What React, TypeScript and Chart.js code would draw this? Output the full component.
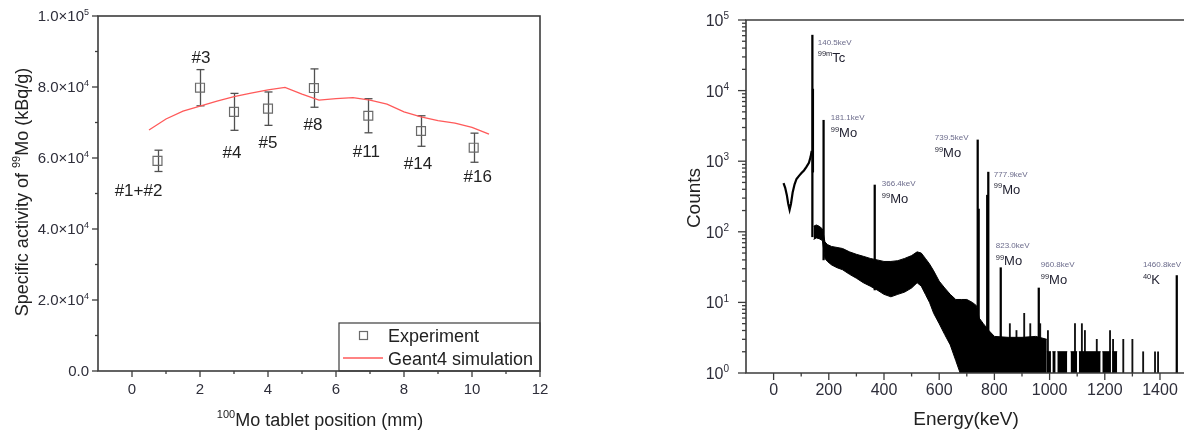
import React, { useEffect, useRef } from "react";
import { Chart, registerables } from "chart.js";

Chart.register(...registerables);

const FONT = '"Liberation Sans", Arial, Helvetica, sans-serif';

// ---------------- Left panel: specific activity of 99Mo vs tablet position ----------------
const tabletPosition = [0.75, 2.0, 3.0, 4.0, 5.35, 6.95, 8.5, 10.05];
const tabletActivity = [59200, 79800, 73000, 73900, 79700, 71900, 67600, 62900];
const tabletError = [3000, 5100, 5200, 4700, 5400, 4800, 4300, 4100];
const tabletNames = ["#1+#2", "#3", "#4", "#5", "#8", "#11", "#14", "#16"];

const simPosition = [0.5, 1.0, 1.5, 2.0, 2.5, 3.0, 3.5, 4.0, 4.5, 5.0, 5.5, 6.0, 6.5, 7.0, 7.5, 8.0, 8.5, 9.0, 9.5, 10.0, 10.5];
const simActivity = [67900, 71000, 73200, 74600, 76000, 77300, 78300, 79200, 79900, 78000, 76300, 76700, 77000, 76300, 75200, 73000, 71600, 70500, 69800, 68600, 66700];

const positionMajorTicks = [0, 2, 4, 6, 8, 10, 12];
const positionMinorTicks = [1, 3, 5, 7, 9, 11];
const activityMajorTicks = [0, 20000, 40000, 60000, 80000, 100000];
const activityMinorTicks = [10000, 30000, 50000, 70000, 90000];

// label placement (pixel offsets from each point) – style, not data
const nameOffset = [[-19, 29], [1, -31], [-2, 40], [0, 33], [-1, 36], [-2, 35], [-3, 32], [4, 28]];

// ---------------- Right panel: gamma spectrum ----------------
const lowEnergy = [36, 42, 48, 53, 58, 63, 69, 76, 83, 92, 101, 110, 119, 128, 134, 138];
const lowCounts = [490, 420, 330, 250, 205, 250, 360, 470, 560, 620, 680, 740, 830, 950, 1150, 1400];

const bandEnergy = [145, 155, 165, 177, 186, 195, 210, 230, 250, 275, 300, 325, 350, 375, 400, 425, 450, 475, 500, 520, 535, 550, 565, 580, 600, 620, 640, 660, 680, 700, 720, 735, 745, 760, 780, 800, 850, 900, 950, 990];
const bandHigh = [120, 125, 120, 110, 72, 66, 62, 60, 58, 52, 48, 45, 42, 40, 38, 38, 39, 42, 46, 52, 50, 42, 35, 28, 20, 16, 13, 11, 11, 11, 10, 9, 6, 5, 4, 3.3, 3.2, 3.2, 3.3, 3];
const bandLow = [78, 82, 80, 75, 42, 38, 34, 31, 29, 25, 22, 19, 17, 15, 13, 12, 13, 14, 16, 19, 17, 13, 10, 7, 5, 3.5, 2.5, 1.5, 0.9, 0.5, 0.5, 0.5, 0.5, 0.5, 0.5, 0.5, 0.5, 0.5, 0.5, 0.5];

const blockStart = [990, 1010, 1028, 1076, 1106, 1191, 1227];
const blockEnd = [1005, 1022, 1064, 1100, 1185, 1221, 1245];
const blockCounts = [2, 2, 2, 2, 2, 2, 2];

const peakEnergy = [140.5, 142.5, 181.1, 366.4, 739.5, 743.0, 774.0, 777.9, 823.0, 960.8, 1460.8];
const peakCounts = [61000, 10500, 3800, 460, 2000, 210, 330, 700, 31, 16, 24];
const peakFloor = [85, 700, 40, 15, 0.5, 0.5, 0.5, 0.5, 0.5, 0.5, 0.5];

const spikeEnergy = [856, 880, 908, 930, 966, 994, 1092, 1117, 1128, 1171, 1219, 1230, 1267, 1300, 1339, 1382, 1393];
const spikeCounts = [5, 4, 7, 5, 5, 4, 5, 5, 4, 3, 4, 3, 3, 3, 2, 2, 2];

const peakLabelText = ["140.5keV", "181.1keV", "366.4keV", "739.5keV", "777.9keV", "823.0keV", "960.8keV", "1460.8keV"];
const peakLabelMass = ["99m", "99", "99", "99", "99", "99", "99", "40"];
const peakLabelSymbol = ["Tc", "Mo", "Mo", "Mo", "Mo", "Mo", "Mo", "K"];
const peakLabelAtEnergy = [160, 207, 392, 584, 798, 805, 968, 1338];
const peakLabelAtCounts = [49000, 4230, 490, 2200, 660, 65, 35, 35];

const energyMajorTicks = [0, 200, 400, 600, 800, 1000, 1200, 1400];
const energyMinorTicks = [100, 300, 500, 700, 900, 1100, 1300];
const countExponents = [0, 1, 2, 3, 4, 5];
const countMinorMultipliers = [2, 3, 4, 5, 6, 7, 8, 9];

// ---------------- helpers ----------------
type Part = { t: string; sup?: boolean };

function drawParts(ctx: CanvasRenderingContext2D, parts: Part[], x: number, y: number, size: number, align: "left" | "center" | "right", color: string, supSize?: number) {
  const ss = supSize ?? size * 0.62;
  const widths = parts.map((p) => {
    ctx.font = `${p.sup ? ss : size}px ${FONT}`;
    return ctx.measureText(p.t).width;
  });
  const total = widths.reduce((a, b) => a + b, 0);
  let cx = align === "left" ? x : align === "center" ? x - total / 2 : x - total;
  ctx.fillStyle = color;
  ctx.textAlign = "left";
  ctx.textBaseline = "alphabetic";
  parts.forEach((p, i) => {
    ctx.font = `${p.sup ? ss : size}px ${FONT}`;
    ctx.fillText(p.t, cx, p.sup ? y - size * 0.42 : y);
    cx += widths[i];
  });
}

function fmtActivity(v: number): Part[] {
  if (v === 0) return [{ t: "0.0" }];
  const e = Math.floor(Math.log10(v) + 1e-9);
  const m = v / Math.pow(10, e);
  return [{ t: `${m.toFixed(1)}×10` }, { t: String(e), sup: true }];
}

function tick(ctx: CanvasRenderingContext2D, x1: number, y1: number, x2: number, y2: number) {
  ctx.beginPath();
  ctx.moveTo(x1, y1);
  ctx.lineTo(x2, y2);
  ctx.stroke();
}

const TICK_COLOR = "#2e2e3a";
const AXIS_COLOR = "#3c3c3c";

// ---------------- left chart ----------------
function makeLeft(canvas: HTMLCanvasElement) {
  const expData = tabletPosition.map((x, i) => ({ x, y: tabletActivity[i] }));
  const simData = simPosition.map((x, i) => ({ x, y: simActivity[i] }));

  const decor = {
    id: "leftDecor",
    beforeDatasetsDraw(chart: any) {
      const { ctx, scales } = chart;
      const x = scales.x, y = scales.y;
      ctx.save();
      ctx.strokeStyle = "#505050";
      ctx.lineWidth = 1.3;
      tabletPosition.forEach((p, i) => {
        const px = Math.round(x.getPixelForValue(p)) + 0.5;
        const top = y.getPixelForValue(tabletActivity[i] + tabletError[i]);
        const bot = y.getPixelForValue(tabletActivity[i] - tabletError[i]);
        tick(ctx, px, top, px, bot);
        tick(ctx, px - 4, top, px + 4, top);
        tick(ctx, px - 4, bot, px + 4, bot);
      });
      ctx.restore();
    },
    afterDraw(chart: any) {
      const { ctx, scales, chartArea: ca } = chart;
      const x = scales.x, y = scales.y;
      ctx.save();
      ctx.strokeStyle = AXIS_COLOR;
      ctx.lineWidth = 1.6;
      ctx.strokeRect(ca.left, ca.top, ca.right - ca.left, ca.bottom - ca.top);
      ctx.lineWidth = 1.3;
      positionMajorTicks.forEach((v) => {
        const p = x.getPixelForValue(v);
        tick(ctx, p, ca.bottom, p, ca.bottom + 6);
        drawParts(ctx, [{ t: String(v) }], p, ca.bottom + 22.5, 15, "center", TICK_COLOR);
      });
      positionMinorTicks.forEach((v) => {
        const p = x.getPixelForValue(v);
        tick(ctx, p, ca.bottom, p, ca.bottom + 3);
      });
      activityMajorTicks.forEach((v) => {
        const p = y.getPixelForValue(v);
        tick(ctx, ca.left, p, ca.left - 6, p);
        drawParts(ctx, fmtActivity(v), ca.left - 9, p + 5.3, 15, "right", TICK_COLOR, 9);
      });
      activityMinorTicks.forEach((v) => {
        const p = y.getPixelForValue(v);
        tick(ctx, ca.left, p, ca.left - 3, p);
      });
      tabletPosition.forEach((p, i) => {
        const px = x.getPixelForValue(p) + nameOffset[i][0];
        const py = y.getPixelForValue(tabletActivity[i]) + nameOffset[i][1];
        drawParts(ctx, [{ t: tabletNames[i] }], px, py + 6, 17, "center", "#222");
      });
      const bw = 201, bh = 48;
      const bx = ca.right - bw, by = ca.bottom - bh;
      ctx.strokeStyle = AXIS_COLOR;
      ctx.lineWidth = 1.2;
      ctx.strokeRect(bx, by, bw, bh);
      ctx.strokeStyle = "#6b6b6b";
      ctx.strokeRect(bx + 20.5, by + 8.5, 8, 8);
      ctx.strokeStyle = "#ff5a5a";
      ctx.lineWidth = 1.3;
      tick(ctx, bx + 4, by + 35, bx + 44, by + 35);
      drawParts(ctx, [{ t: "Experiment" }], bx + 49, by + 18.5, 18, "left", "#222");
      drawParts(ctx, [{ t: "Geant4 simulation" }], bx + 49, by + 41.5, 18, "left", "#222");
      drawParts(ctx, [{ t: "100", sup: true }, { t: "Mo tablet position (mm)" }], 320, 426, 18, "center", "#222", 11);
      ctx.save();
      ctx.translate(28, 192);
      ctx.rotate(-Math.PI / 2);
      drawParts(ctx, [{ t: "Specific activity of " }, { t: "99", sup: true }, { t: "Mo (kBq/g)" }], 0, 0, 18, "center", "#222", 11);
      ctx.restore();
      ctx.restore();
    },
  };

  return new Chart(canvas, {
    type: "scatter",
    data: {
      datasets: [
        {
          label: "Experiment",
          data: expData,
          showLine: false,
          pointStyle: "rect",
          pointRadius: 6.3,
          borderColor: "#6b6b6b",
          borderWidth: 1.2,
          backgroundColor: "rgba(0,0,0,0)",
        },
        {
          label: "Geant4 simulation",
          data: simData,
          showLine: true,
          pointRadius: 0,
          borderColor: "#ff5a5a",
          borderWidth: 1.3,
          tension: 0,
          fill: false,
        },
      ],
    },
    options: {
      responsive: false,
      animation: false,
      events: [],
      layout: { padding: { top: 16, right: 50, left: 0, bottom: 0 } },
      plugins: { legend: { display: false }, tooltip: { enabled: false } },
      scales: {
        x: {
          type: "linear",
          min: -1,
          max: 12,
          grid: { display: false },
          border: { display: false },
          ticks: { display: false },
          afterFit: (s: any) => { s.height = 65; },
        },
        y: {
          type: "linear",
          min: 0,
          max: 100000,
          grid: { display: false },
          border: { display: false },
          ticks: { display: false },
          afterFit: (s: any) => { s.width = 98; },
        },
      },
    } as any,
    plugins: [decor],
  });
}

// ---------------- right chart ----------------
function makeRight(canvas: HTMLCanvasElement) {
  const hi = bandEnergy.map((e, i) => ({ x: e, y: bandHigh[i] }));
  const lo = bandEnergy.map((e, i) => ({ x: e, y: bandLow[i] }));
  const low = lowEnergy.map((e, i) => ({ x: e, y: lowCounts[i] }));
  const blocks: { x: number; y: number | null }[] = [];
  blockStart.forEach((s, i) => {
    blocks.push({ x: s, y: blockCounts[i] });
    blocks.push({ x: blockEnd[i], y: blockCounts[i] });
    blocks.push({ x: blockEnd[i] + 0.5, y: null });
  });
  const peaks = peakEnergy.map((e, i) => ({ x: e, y: [peakFloor[i], peakCounts[i]] }));
  const spikes = spikeEnergy.map((e, i) => ({ x: e, y: [0.5, spikeCounts[i]] }));

  const countMinor: number[] = [];
  countExponents.slice(0, -1).forEach((k) => countMinorMultipliers.forEach((m) => countMinor.push(m * Math.pow(10, k))));

  const decor = {
    id: "rightDecor",
    afterDraw(chart: any) {
      const { ctx, scales, chartArea: ca } = chart;
      const x = scales.x, y = scales.y;
      ctx.save();
      ctx.strokeStyle = AXIS_COLOR;
      ctx.lineWidth = 1.6;
      ctx.beginPath();
      ctx.moveTo(chart.width, ca.top);
      ctx.lineTo(ca.left, ca.top);
      ctx.lineTo(ca.left, ca.bottom);
      ctx.lineTo(chart.width, ca.bottom);
      ctx.stroke();
      ctx.lineWidth = 1.3;
      energyMajorTicks.forEach((v) => {
        const p = x.getPixelForValue(v);
        tick(ctx, p, ca.bottom, p, ca.bottom + 7);
        drawParts(ctx, [{ t: String(v) }], p, ca.bottom + 22, 16, "center", TICK_COLOR);
      });
      energyMinorTicks.forEach((v) => {
        const p = x.getPixelForValue(v);
        tick(ctx, p, ca.bottom, p, ca.bottom + 3.5);
      });
      countExponents.forEach((k) => {
        const p = y.getPixelForValue(Math.pow(10, k));
        tick(ctx, ca.left, p, ca.left - 8, p);
        drawParts(ctx, [{ t: "10" }, { t: String(k), sup: true }], ca.left - 17, p + 6, 16, "right", TICK_COLOR, 10);
      });
      countMinor.forEach((v) => {
        const p = y.getPixelForValue(v);
        tick(ctx, ca.left, p, ca.left - 4, p);
      });
      peakLabelText.forEach((t, i) => {
        const px = x.getPixelForValue(peakLabelAtEnergy[i]);
        const py = y.getPixelForValue(peakLabelAtCounts[i]);
        drawParts(ctx, [{ t }], px, py + 3, 8, "left", "#6c6c8c");
        drawParts(ctx, [{ t: peakLabelMass[i], sup: true }, { t: peakLabelSymbol[i] }], px, py + 20, 13, "left", "#1e1e2e", 7.5);
      });
      drawParts(ctx, [{ t: "Energy(keV)" }], 966 - 590, 425, 19, "center", "#222");
      ctx.save();
      ctx.translate(110, 198);
      ctx.rotate(-Math.PI / 2);
      drawParts(ctx, [{ t: "Counts" }], 0, 0, 19, "center", "#222");
      ctx.restore();
      ctx.restore();
    },
  };

  return new Chart(canvas, {
    type: "scatter",
    data: {
      datasets: [
        { type: "line", data: hi, showLine: true, pointRadius: 0, borderColor: "#000", borderWidth: 1, backgroundColor: "#000", fill: "+1", tension: 0 },
        { type: "line", data: lo, showLine: true, pointRadius: 0, borderColor: "#000", borderWidth: 1, fill: false, tension: 0 },
        { type: "line", data: blocks, showLine: true, spanGaps: false, pointRadius: 0, borderColor: "#000", borderWidth: 1, backgroundColor: "#000", fill: "start", tension: 0 },
        { type: "line", data: low, showLine: true, pointRadius: 0, borderColor: "#000", borderWidth: 2.2, fill: false, tension: 0 },
        { type: "bar", data: peaks, backgroundColor: "#000", barThickness: 1.6, grouped: false },
        { type: "bar", data: spikes, backgroundColor: "#111", barThickness: 1.2, grouped: false },
      ],
    },
    options: {
      responsive: false,
      animation: false,
      events: [],
      layout: { padding: { top: 20, right: 0, left: 0, bottom: 0 } },
      plugins: { legend: { display: false }, tooltip: { enabled: false } },
      scales: {
        x: {
          type: "linear",
          min: -100,
          max: 1487,
          offset: false,
          grid: { display: false },
          border: { display: false },
          ticks: { display: false },
          afterFit: (s: any) => { s.height = 63; },
        },
        y: {
          type: "logarithmic",
          min: 1,
          max: 100000,
          grid: { display: false },
          border: { display: false },
          ticks: { display: false },
          afterFit: (s: any) => { s.width = 156; },
        },
      },
    } as any,
    plugins: [decor],
  });
}

export default function App() {
  const leftRef = useRef<HTMLCanvasElement>(null);
  const rightRef = useRef<HTMLCanvasElement>(null);
  useEffect(() => {
    const charts: Chart[] = [];
    if (leftRef.current) charts.push(makeLeft(leftRef.current));
    if (rightRef.current) charts.push(makeRight(rightRef.current));
    return () => charts.forEach((c) => c.destroy());
  }, []);
  return (
    <div style={{ position: "absolute", left: 0, top: 0, width: 1184, height: 436, background: "#fff", overflow: "hidden" }}>
      <canvas ref={leftRef} width={590} height={436} style={{ position: "absolute", left: 0, top: 0, width: 590, height: 436 }} />
      <canvas ref={rightRef} width={594} height={436} style={{ position: "absolute", left: 590, top: 0, width: 594, height: 436 }} />
    </div>
  );
}
